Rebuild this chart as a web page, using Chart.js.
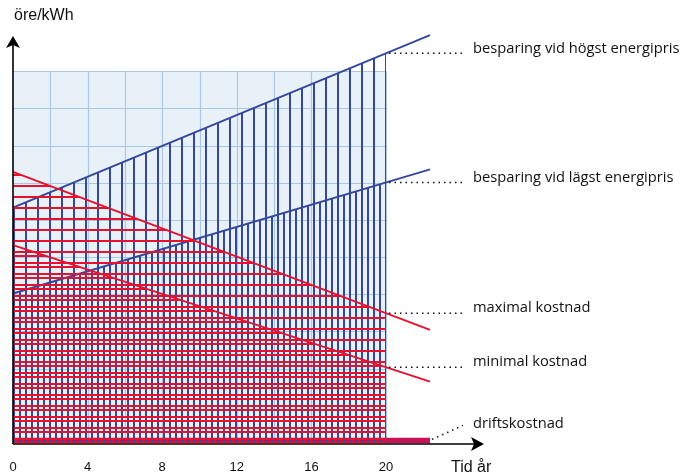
<!DOCTYPE html>
<html>
<head>
<meta charset="utf-8">
<script src="https://cdn.jsdelivr.net/npm/chart.js@4.4.1/dist/chart.umd.min.js"></script>
<style>
  html, body { margin: 0; padding: 0; background: #fff; }
</style>
</head>
<body>
<canvas id="chart" width="682" height="475"></canvas>
<script>
// år där linjerna börjar och slutar
const years = [0, 22.36];
const hogstPris = [6.33, 10.97];
const lagstPris = [4.02, 7.36];
const maxKostnad = [7.29, 3.04];
const minKostnad = [5.32, 1.65];
const driftKostnad = [0.07, 0.07];

const xTickStep = 4;
const lineLabels = [
  "besparing vid högst energipris",
  "besparing vid lägst energipris",
  "maximal kostnad",
  "minimal kostnad",
  "driftskostnad"
];

const BLUE = "#34479b";
const RED = "#e8112d";

const canvas = document.getElementById("chart");
const ctx = canvas.getContext("2d");

// streckmönster för skrafferingen
function stripes(color, vertical, size, offset) {
  const c = document.createElement("canvas");
  c.width = size;
  c.height = size;
  const g = c.getContext("2d");
  g.fillStyle = color;
  if (vertical) g.fillRect(offset, 0, 2, size);
  else g.fillRect(0, offset, size, 2);
  return ctx.createPattern(c, "repeat");
}

function pts(values) {
  return years.map((x, i) => ({ x: x, y: values[i] }));
}

const decor = {
  id: "decor",
  beforeDraw(chart) {
    const { ctx, scales: { x, y } } = chart;
    const l = x.getPixelForValue(0), r = x.getPixelForValue(20);
    const t = y.getPixelForValue(10), b = y.getPixelForValue(0);
    ctx.save();
    ctx.fillStyle = "#e8f1f8";
    ctx.fillRect(l, t, r - l, b - t);
    ctx.strokeStyle = "#acc6e6";
    ctx.lineWidth = 1.2;
    ctx.beginPath();
    for (let v = 2; v <= 20; v += 2) {
      const px = Math.round(x.getPixelForValue(v)) + 0.5;
      ctx.moveTo(px, t);
      ctx.lineTo(px, b);
    }
    for (let v = 1; v <= 10; v++) {
      const py = Math.round(y.getPixelForValue(v)) + 0.5;
      ctx.moveTo(l, py);
      ctx.lineTo(r, py);
    }
    ctx.stroke();
    ctx.restore();
  },
  afterDraw(chart) {
    const { ctx, scales: { x, y } } = chart;
    const x0 = x.getPixelForValue(0);
    const y0 = y.getPixelForValue(0);
    const x20 = x.getPixelForValue(20);
    ctx.save();

    // axlar med pilar
    ctx.strokeStyle = "#000";
    ctx.fillStyle = "#000";
    ctx.lineWidth = 1.6;
    ctx.beginPath();
    ctx.moveTo(x0, y0 + 1);
    ctx.lineTo(x0, 44);
    ctx.moveTo(x0, y0 + 1);
    ctx.lineTo(476, y0 + 1);
    ctx.stroke();
    ctx.beginPath();
    ctx.moveTo(x0, 36);
    ctx.lineTo(x0 + 7, 48);
    ctx.lineTo(x0, 45);
    ctx.lineTo(x0 - 7, 48);
    ctx.closePath();
    ctx.fill();
    ctx.beginPath();
    ctx.moveTo(484, y0 + 1);
    ctx.lineTo(471, y0 - 6);
    ctx.lineTo(474, y0 + 1);
    ctx.lineTo(471, y0 + 8);
    ctx.closePath();
    ctx.fill();

    ctx.font = "16px 'Liberation Sans', Arial, sans-serif";
    ctx.textBaseline = "alphabetic";
    ctx.textAlign = "left";
    ctx.fillStyle = "#111";
    ctx.fillText("öre/kWh", 14, 20);
    ctx.fillText("Tid år", 451, 472);

    // streckade hänvisningslinjer och texter
    ctx.font = "14.7px 'Open Sans', sans-serif";
    ctx.textBaseline = "middle";
    ctx.setLineDash([1.5, 4]);
    ctx.lineWidth = 1.5;
    ctx.strokeStyle = "#111";
    for (let i = 1; i <= 4; i++) {
      const meta = chart.getDatasetMeta(i);
      const p0 = meta.data[0], p1 = meta.data[1];
      const t = (x20 - p0.x) / (p1.x - p0.x);
      const ly = p0.y + t * (p1.y - p0.y);
      ctx.beginPath();
      ctx.moveTo(x20 + 3, ly);
      ctx.lineTo(463, ly);
      ctx.stroke();
      ctx.fillText(lineLabels[i - 1], 473, ly - 5);
    }
    const d = chart.getDatasetMeta(0).data[1];
    ctx.beginPath();
    ctx.moveTo(d.x + 2, d.y - 1);
    ctx.lineTo(463, d.y - 15);
    ctx.stroke();
    ctx.fillText(lineLabels[4], 473, d.y - 17);
    ctx.restore();
  }
};

new Chart(canvas, {
  type: "line",
  data: {
    datasets: [
      {
        label: lineLabels[4],
        data: pts(driftKostnad),
        borderColor: "#c81256",
        borderWidth: 5.5,
        fill: false,
        order: 5
      },
      {
        label: lineLabels[0],
        data: pts(hogstPris),
        borderColor: BLUE,
        borderWidth: 1.9,
        backgroundColor: stripes(BLUE, true, 12, 1),
        fill: "origin",
        order: 4
      },
      {
        label: lineLabels[1],
        data: pts(lagstPris),
        borderColor: BLUE,
        borderWidth: 1.9,
        backgroundColor: stripes(BLUE, true, 12, 7),
        fill: "origin",
        order: 3
      },
      {
        label: lineLabels[2],
        data: pts(maxKostnad),
        borderColor: RED,
        borderWidth: 1.9,
        backgroundColor: stripes(RED, false, 11, 9),
        fill: "origin",
        order: 2
      },
      {
        label: lineLabels[3],
        data: pts(minKostnad),
        borderColor: RED,
        borderWidth: 1.9,
        backgroundColor: stripes(RED, false, 11, 2),
        fill: "origin",
        order: 1
      }
    ]
  },
  options: {
    responsive: false,
    devicePixelRatio: 1,
    animation: false,
    events: [],
    clip: false,
    elements: {
      point: { radius: 0 },
      line: { tension: 0 }
    },
    layout: { padding: { left: 13, right: 296, top: 34, bottom: 0 } },
    scales: {
      x: {
        type: "linear",
        min: 0,
        max: 20,
        grid: { display: false, drawTicks: false },
        border: { display: false },
        ticks: {
          stepSize: xTickStep,
          padding: 17,
          color: "#111",
          font: { family: "'Liberation Sans', Arial, sans-serif", size: 13 }
        },
        afterFit(scale) {
          scale.height = 32;
          scale.paddingLeft = 0;
          scale.paddingRight = 0;
        }
      },
      y: {
        type: "linear",
        min: 0,
        max: 11,
        display: false
      }
    },
    plugins: {
      legend: { display: false },
      tooltip: { enabled: false },
      filler: { drawTime: "beforeDatasetDraw" }
    }
  },
  plugins: [decor]
});
</script>
</body>
</html>
